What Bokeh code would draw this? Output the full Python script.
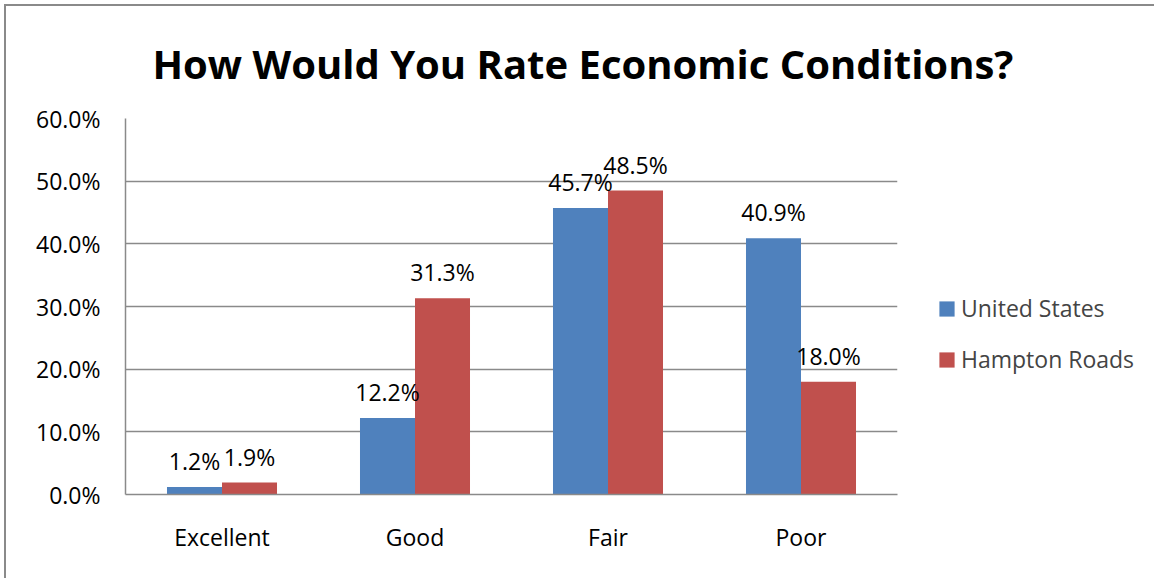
from bokeh.plotting import figure
from bokeh.models import ColumnDataSource, FactorRange, Legend, LegendItem, PrintfTickFormatter, FixedTicker
from bokeh.transform import dodge
from bokeh.core.properties import value
from bokeh.embed import file_html
from bokeh.resources import INLINE

title_text = "How Would You Rate Economic Conditions?"
categories = ["Excellent", "Good", "Fair", "Poor"]
series_names = ["United States", "Hampton Roads"]
united_states = [1.2, 12.2, 45.7, 40.9]
hampton_roads = [1.9, 31.3, 48.5, 18.0]
y_ticks = [0, 10, 20, 30, 40, 50, 60]

BLUE = "#4F81BD"
RED = "#C0504D"
GRAY = "#8a8a8a"
FONT = "Open Sans"
FS = "23px"

src = ColumnDataSource(dict(
    cat=categories,
    us=united_states,
    hr=hampton_roads,
    us_lbl=[f"{v:.1f}%" for v in united_states],
    hr_lbl=[f"{v:.1f}%" for v in hampton_roads],
))

p = figure(
    x_range=FactorRange(*categories),
    y_range=(0, 60),
    frame_width=772, frame_height=376,
    output_backend="svg", toolbar_location=None,
    min_border_left=119, min_border_right=257,
    min_border_top=112, min_border_bottom=84,
)
p.styles = {"border-left": f"2px solid {GRAY}", "border-top": f"2px solid {GRAY}",
            "margin-left": "4px", "margin-top": "4px"}
p.outline_line_color = None
p.background_fill_color = "white"
p.border_fill_color = "white"

p.title.text = title_text
p.title.align = "left"
p.title.text_font = FONT
p.title.text_font_size = "40px"
p.title.text_font_style = "bold"
p.title.text_color = "black"
p.title.offset = 27
p.title.standoff = 55

bw = 0.285
r_us = p.vbar(x=dodge("cat", -bw / 2, range=p.x_range), top="us", width=bw, source=src,
              fill_color=BLUE, line_color=None)
r_hr = p.vbar(x=dodge("cat", bw / 2, range=p.x_range), top="hr", width=bw, source=src,
              fill_color=RED, line_color=None)

for xcol, ycol, lcol in [(-bw / 2, "us", "us_lbl"), (bw / 2, "hr", "hr_lbl")]:
    p.text(x=dodge("cat", xcol, range=p.x_range), y=ycol, text=lcol, source=src,
           text_font=value(FONT), text_font_size=FS, text_color="black",
           text_align="center", text_baseline="alphabetic", y_offset=-26)

p.yaxis.ticker = FixedTicker(ticks=y_ticks)
p.yaxis.formatter = PrintfTickFormatter(format="%.1f%%")
for ax in (p.xaxis[0], p.yaxis[0]):
    ax.axis_line_color = GRAY
    ax.axis_line_width = 1.5
    ax.major_tick_line_color = None
    ax.minor_tick_line_color = None
    ax.major_label_text_font = FONT
    ax.major_label_text_font_size = FS
    ax.major_label_text_color = "black"
p.yaxis.major_label_standoff = 19
p.xaxis.major_label_standoff = 20

p.xgrid.grid_line_color = None
p.ygrid.grid_line_color = GRAY
p.ygrid.grid_line_width = 1.5

legend = Legend(items=[LegendItem(label=series_names[0], renderers=[r_us]),
                       LegendItem(label=series_names[1], renderers=[r_hr])],
                location=(40, 119), orientation="vertical",
                label_text_font=FONT, label_text_font_size=FS,
                glyph_width=19, glyph_height=19, label_standoff=5,
                spacing=19, label_height=22,
                background_fill_alpha=0, border_line_color=None, padding=0, margin=0)
p.add_layout(legend, "right")

open("out.html", "w").write(file_html(p, INLINE))
